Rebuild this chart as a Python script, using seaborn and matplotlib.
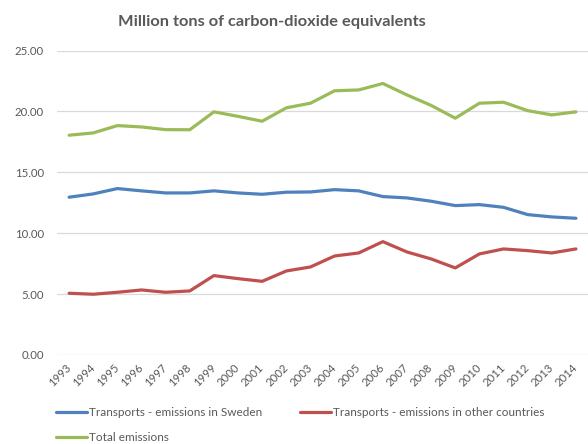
import numpy as np
import pandas as pd
import matplotlib
matplotlib.use("Agg")
import matplotlib.pyplot as plt
import seaborn as sns

years = list(range(1993, 2015))
sweden = [12.96, 13.23, 13.67, 13.48, 13.31, 13.31, 13.48, 13.31, 13.20, 13.37, 13.39,
          13.58, 13.48, 13.01, 12.90, 12.63, 12.27, 12.35, 12.13, 11.53, 11.34, 11.23]
other = [5.07, 4.99, 5.15, 5.34, 5.15, 5.26, 6.52, 6.27, 6.05, 6.90, 7.23,
         8.13, 8.38, 9.31, 8.46, 7.89, 7.15, 8.30, 8.71, 8.57, 8.38, 8.71]
total = [18.05, 18.24, 18.84, 18.73, 18.51, 18.50, 19.97, 19.60, 19.20, 20.30, 20.68,
         21.70, 21.77, 22.30, 21.36, 20.50, 19.45, 20.68, 20.76, 20.07, 19.72, 19.97]
series_names = ["Transports - emissions in Sweden",
                "Transports - emissions in other countries",
                "Total emissions"]
colors = ["#4F81BD", "#C0504D", "#9BBB59"]
title = "Million tons of carbon-dioxide equivalents"
yticks = [0, 5, 10, 15, 20, 25]

df = pd.DataFrame({
    "year": years * 3,
    "value": sweden + other + total,
    "series": [series_names[0]] * len(years) + [series_names[1]] * len(years) + [series_names[2]] * len(years),
})

sns.set_style("white")
plt.rcParams["font.family"] = ["Lato", "DejaVu Sans"]

fig = plt.figure(figsize=(5.88, 4.44), dpi=100)
ax = fig.add_axes([0.097, 0.2005, 0.903, 0.6855])

sns.lineplot(data=df, x="year", y="value", hue="series", hue_order=series_names,
             palette=colors, linewidth=2.3, ax=ax, legend=False)

ax.set_xlim(years[0] - 0.5, years[-1] + 0.5)
ax.set_ylim(0, 25)
ax.set_yticks(yticks)
ax.set_yticklabels([f"{v:.2f}" for v in yticks], fontsize=8.2, color="#595959")
ax.set_xticks(years)
ax.set_xticklabels([str(y) for y in years], rotation=45, fontsize=8.2, color="#595959",
                   ha="right", va="center", rotation_mode="anchor")
ax.tick_params(axis="y", length=0, pad=9.5)
ax.tick_params(axis="x", length=0, pad=8)
ax.grid(axis="y", color="#D9D9D9", linewidth=0.9)
ax.set_axisbelow(True)
for s in ax.spines.values():
    s.set_visible(False)
ax.set_xlabel("")
ax.set_ylabel("")

fig.text(0.462, 0.951, title, ha="center", va="center", fontsize=11.8,
         fontweight="bold", color="#595959")

handles = [plt.Line2D([], [], color=c, linewidth=2.3) for c in colors]
order = [0, 2, 1]
leg = fig.legend([handles[i] for i in order], [series_names[i] for i in order],
                 ncol=2, loc="upper left",
                 bbox_to_anchor=(0.087, 0.093), frameon=False, fontsize=8.5,
                 handlelength=2.6, handletextpad=0.2, columnspacing=3.2,
                 labelspacing=1.15, borderaxespad=0)
for t in leg.get_texts():
    t.set_color("#595959")

fig.savefig("out.png", dpi=100)
